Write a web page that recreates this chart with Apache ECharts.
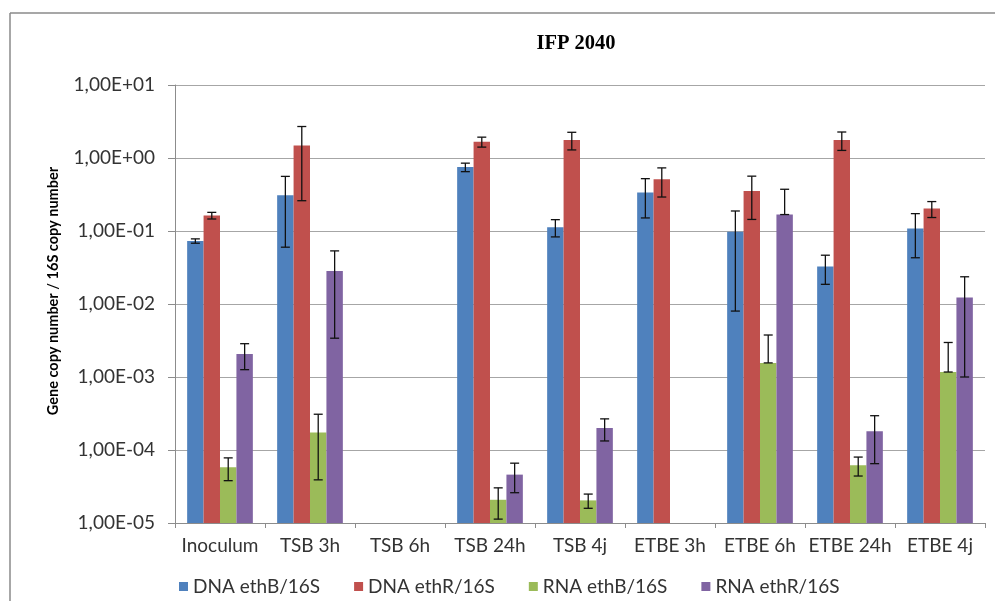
<!DOCTYPE html>
<html>
<head>
<meta charset="utf-8">
<title>IFP 2040</title>
<script src="https://cdn.jsdelivr.net/npm/echarts@6/dist/echarts.min.js"></script>
<style>
  html, body { margin: 0; padding: 0; background: #ffffff; }
  #chart { width: 995px; height: 601px; }
</style>
</head>
<body>
<div id="chart"></div>
<script>
// Sampling points
const categories = ['Inoculum', 'TSB 3h', 'TSB 6h', 'TSB 24h', 'TSB 4j', 'ETBE 3h', 'ETBE 6h', 'ETBE 24h', 'ETBE 4j'];

// Gene copy number / 16S copy number (null = not measured)
const dnaEthB = [0.073, 0.31, null, 0.75, 0.113, 0.336, 0.098, 0.0326, 0.108];
const dnaEthR = [0.163, 1.48, null, 1.67, 1.77, 0.512, 0.354, 1.77, 0.203];
const rnaEthB = [5.8e-5, 1.74e-4, null, 2.08e-5, 2.04e-5, null, 1.56e-3, 6.2e-5, 1.17e-3];
const rnaEthR = [2.06e-3, 0.0284, null, 4.6e-5, 2.0e-4, null, 0.168, 1.8e-4, 0.0123];

// Standard deviations (symmetric, linear units)
const errDnaEthB = [0.005, 0.25, null, 0.1, 0.03, 0.185, 0.09, 0.014, 0.065];
const errDnaEthR = [0.017, 1.22, null, 0.26, 0.48, 0.22, 0.21, 0.5, 0.05];
const errRnaEthB = [2.0e-5, 1.35e-4, null, 0.95e-5, 0.45e-5, null, 2.2e-3, 1.8e-5, 1.8e-3];
const errRnaEthR = [0.8e-3, 0.025, null, 2.0e-5, 0.67e-4, null, 0.205, 1.15e-4, 0.0113];

// Y-axis tick labels, one per decade from 1E-05 to 1E+01
const tickLabels = ['1,00E-05', '1,00E-04', '1,00E-03', '1,00E-02', '1,00E-01', '1,00E+00', '1,00E+01'];

const seriesNames = ['DNA ethB/16S', 'DNA ethR/16S', 'RNA ethB/16S', 'RNA ethR/16S'];
const seriesColors = ['#4F81BD', '#C0504D', '#9BBB59', '#8064A2'];
const seriesValues = [dnaEthB, dnaEthR, rnaEthB, rnaEthR];
const seriesErrors = [errDnaEthB, errDnaEthR, errRnaEthB, errRnaEthR];

const FONT = 'Lato, "Open Sans", sans-serif';
const Y_MIN = 1e-5;
const Y_MAX = 10;
const CATEGORY_GAP = 0.27;   // share of each category band left empty
const N_SERIES = 4;

// Horizontal placement of series k inside its category band
function barSlot(api, ci, k) {
  const center = api.coord([ci, 1])[0];
  const band = api.size([1, 1])[0];
  const bw = band * (1 - CATEGORY_GAP) / N_SERIES;
  const x0 = center - (N_SERIES * bw) / 2 + k * bw;
  return { x0, bw, mid: x0 + bw / 2 };
}

// Bars grow from the bottom of the log axis up to their value
function makeBarRenderer(k) {
  return function (params, api) {
    const ci = api.value(0);
    const top = api.coord([ci, api.value(1)]);
    const base = api.coord([ci, Y_MIN]);
    const s = barSlot(api, ci, k);
    return {
      type: 'rect',
      shape: { x: s.x0, y: top[1], width: s.bw, height: base[1] - top[1] },
      style: { fill: seriesColors[k] }
    };
  };
}

// Error bar rows: [categoryIndex, low, high]; a lower bound at or below zero
// cannot be shown on a log axis, so only the upper half is drawn then.
function errorRows(values, errs) {
  const rows = [];
  values.forEach((v, i) => {
    if (v == null || errs[i] == null) return;
    const lo = v - errs[i] > 0 ? v - errs[i] : v;
    rows.push([i, lo, v + errs[i]]);
  });
  return rows;
}

function barRows(values) {
  const rows = [];
  values.forEach((v, i) => { if (v != null) rows.push([i, v]); });
  return rows;
}

function makeErrorRenderer(k) {
  return function (params, api) {
    const ci = api.value(0);
    const pHi = api.coord([ci, api.value(2)]);
    const pLo = api.coord([ci, api.value(1)]);
    const x = barSlot(api, ci, k).mid;
    const cap = 4.5;
    const style = { stroke: '#111111', lineWidth: 1.3 };
    return {
      type: 'group',
      children: [
        { type: 'line', shape: { x1: x, y1: pHi[1], x2: x, y2: pLo[1] }, style },
        { type: 'line', shape: { x1: x - cap, y1: pHi[1], x2: x + cap, y2: pHi[1] }, style },
        { type: 'line', shape: { x1: x - cap, y1: pLo[1], x2: x + cap, y2: pLo[1] }, style }
      ]
    };
  };
}

const series = [];
seriesNames.forEach((name, k) => {
  series.push({
    name,
    type: 'custom',
    renderItem: makeBarRenderer(k),
    data: barRows(seriesValues[k]),
    encode: { x: 0, y: 1 },
    itemStyle: { color: seriesColors[k] },
    z: 2,
    silent: true
  });
});
seriesNames.forEach((name, k) => {
  series.push({
    name: name + ' (SD)',
    type: 'custom',
    renderItem: makeErrorRenderer(k),
    data: errorRows(seriesValues[k], seriesErrors[k]),
    encode: { x: 0, y: [1, 2] },
    itemStyle: { color: '#111111' },
    z: 10,
    silent: true
  });
});

const chart = echarts.init(document.getElementById('chart'), null, { renderer: 'canvas' });
chart.setOption({
  animation: false,
  backgroundColor: '#ffffff',
  grid: { left: 175, right: 10, top: 85, bottom: 78, containLabel: false },
  legend: {
    data: seriesNames,
    left: 174,
    top: 572,
    itemWidth: 9,
    itemHeight: 9,
    itemGap: 34,
    icon: 'rect',
    textStyle: { fontFamily: FONT, fontSize: 19, color: '#333333' }
  },
  xAxis: {
    type: 'category',
    data: categories,
    axisLine: { lineStyle: { color: '#8c8c8c' } },
    axisTick: { show: true, length: 5, lineStyle: { color: '#8c8c8c' } },
    axisLabel: { fontFamily: FONT, fontSize: 19, color: '#333333', margin: 13, interval: 0 }
  },
  yAxis: {
    type: 'log',
    logBase: 10,
    min: Y_MIN,
    max: Y_MAX,
    axisLine: { show: true, lineStyle: { color: '#8c8c8c' } },
    axisTick: { show: true, length: 7, lineStyle: { color: '#8c8c8c' } },
    splitLine: { show: true, lineStyle: { color: '#a6a6a6', width: 1 } },
    minorTick: { show: false },
    axisLabel: {
      fontFamily: FONT,
      fontSize: 19,
      color: '#333333',
      margin: 20,
      formatter: v => tickLabels[Math.round(Math.log10(v)) + 5]
    }
  },
  graphic: [
    { type: 'line', shape: { x1: 10, y1: 13, x2: 995, y2: 13 }, style: { stroke: '#8a8a8a', lineWidth: 1.5 } },
    { type: 'line', shape: { x1: 10, y1: 13, x2: 10, y2: 601 }, style: { stroke: '#8a8a8a', lineWidth: 1.5 } },
    {
      type: 'text', x: 576, y: 44,
      style: { text: 'IFP 2040', fontFamily: '"Liberation Serif", "Times New Roman", serif', fontWeight: 'bold', fontSize: 20.5, fill: '#000000', align: 'center', verticalAlign: 'middle' }
    },
    {
      type: 'text', x: 53, y: 291, rotation: Math.PI / 2,
      style: { text: 'Gene copy number / 16S copy number', fontFamily: FONT, fontWeight: 'bold', fontSize: 14.5, fill: '#000000', align: 'center', verticalAlign: 'middle' }
    }
  ],
  series
});
</script>
</body>
</html>
